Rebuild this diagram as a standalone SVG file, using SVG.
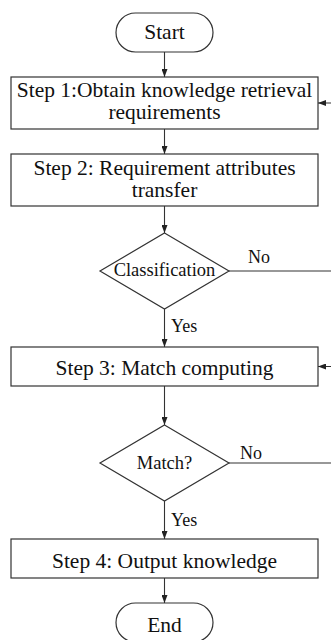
<svg xmlns="http://www.w3.org/2000/svg" width="331" height="640" viewBox="0 0 331 640">
<defs>
<marker id="ah" viewBox="0 0 8 6" refX="8" refY="3" markerWidth="8" markerHeight="6" markerUnits="userSpaceOnUse" orient="auto">
<path d="M0,0 L8,3 L0,6 Z" fill="#222"/>
</marker>
<style>
.box{fill:#fff;stroke:#333;stroke-width:1.2}
.t{font-family:"Liberation Serif","Times New Roman",serif;font-size:21.5px;fill:#111;text-anchor:middle}
.s{font-family:"Liberation Serif","Times New Roman",serif;font-size:18.5px;fill:#111;text-anchor:middle}
.l{font-family:"Liberation Serif","Times New Roman",serif;font-size:18px;fill:#111}
.c{fill:none;stroke:#333;stroke-width:1.1}
</style>
</defs>
<rect width="331" height="640" fill="#fff"/>
<g id="connectors">
<path class="c" d="M164.5,52 V77" marker-end="url(#ah)"/>
<path class="c" d="M164.5,129 V154" marker-end="url(#ah)"/>
<path class="c" d="M164.5,206 V233" marker-end="url(#ah)"/>
<path class="c" d="M164.5,309 V347" marker-end="url(#ah)"/>
<path class="c" d="M164.5,386 V425" marker-end="url(#ah)"/>
<path class="c" d="M164.5,501 V539" marker-end="url(#ah)"/>
<path class="c" d="M164.5,578 V603" marker-end="url(#ah)"/>
<path class="c" d="M229,271 H345 V103 H318" marker-end="url(#ah)"/>
<path class="c" d="M229,463 H350 V366.5 H318" marker-end="url(#ah)"/>
<text class="l" x="248" y="263">No</text>
<text class="l" x="171" y="332">Yes</text>
<text class="l" x="240" y="459">No</text>
<text class="l" x="171" y="526">Yes</text>
</g>
<g id="start">
<rect class="box" x="116" y="13" width="97" height="39" rx="19.5" ry="19.5"/>
<text class="t" x="164.5" y="39">Start</text>
</g>
<g id="step1">
<rect class="box" x="11" y="77" width="307" height="52"/>
<text class="t" x="164.5" y="97">Step 1:Obtain knowledge retrieval</text>
<text class="t" x="164.5" y="119">requirements</text>
</g>
<g id="step2">
<rect class="box" x="11" y="154" width="307" height="52"/>
<text class="t" x="164.5" y="175">Step 2: Requirement attributes</text>
<text class="t" x="164.5" y="197">transfer</text>
</g>
<g id="classification">
<polygon class="box" points="164.5,233 229,271 164.5,309 100,271"/>
<text class="s" x="164.5" y="276">Classification</text>
</g>
<g id="step3">
<rect class="box" x="11" y="347" width="307" height="39"/>
<text class="t" x="164.5" y="375">Step 3: Match computing</text>
</g>
<g id="match">
<polygon class="box" points="164.5,425 229,463 164.5,501 100,463"/>
<text class="s" x="164.5" y="469">Match?</text>
</g>
<g id="step4">
<rect class="box" x="11" y="539" width="307" height="39"/>
<text class="t" x="164.5" y="568">Step 4: Output knowledge</text>
</g>
<g id="end">
<rect class="box" x="116" y="603" width="97" height="39" rx="19.5" ry="19.5"/>
<text class="t" x="164.5" y="632">End</text>
</g>
</svg>
